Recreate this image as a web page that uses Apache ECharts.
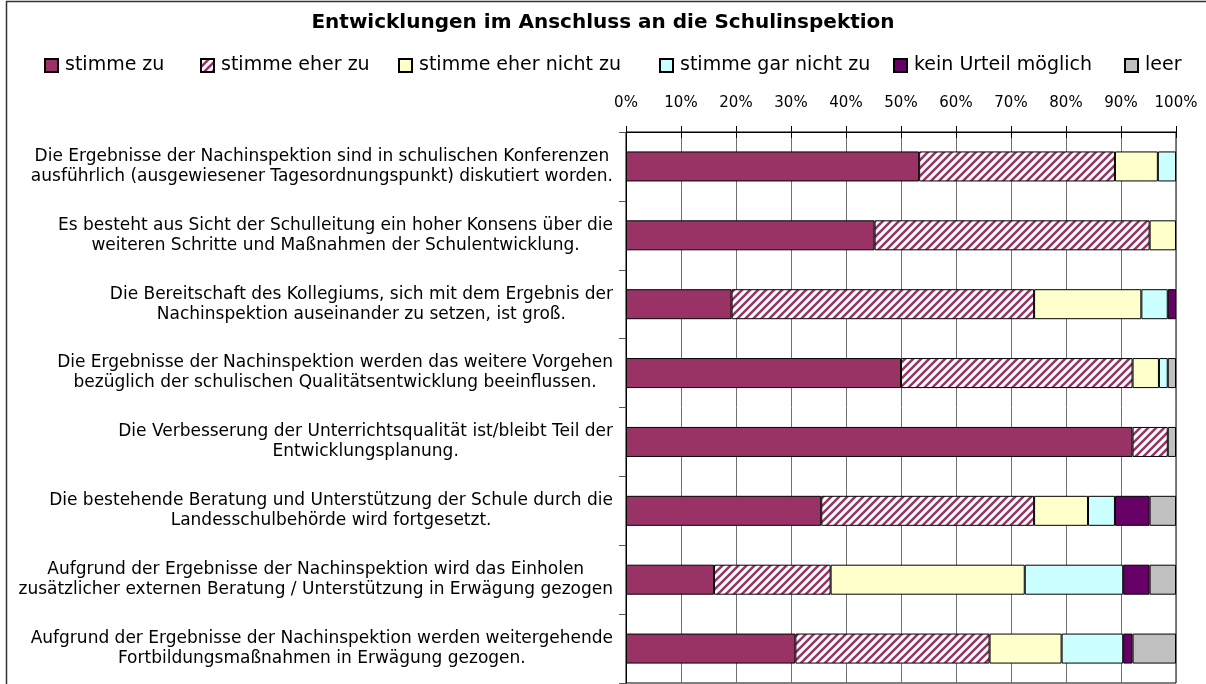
<!DOCTYPE html>
<html>
<head>
<meta charset="utf-8">
<title>Entwicklungen im Anschluss an die Schulinspektion</title>
<script src="https://cdn.jsdelivr.net/npm/echarts@6/dist/echarts.min.js"></script>
<style>
  html, body { margin: 0; padding: 0; background: #fff; }
  #chart { width: 1206px; height: 684px; }
</style>
</head>
<body>
<div id="chart"></div>
<script>
// Survey statements (top to bottom)
const categories = [
  'Die Ergebnisse der Nachinspektion sind in schulischen Konferenzen\nausführlich (ausgewiesener Tagesordnungspunkt) diskutiert worden.',
  'Es besteht aus Sicht der Schulleitung ein hoher Konsens über die\nweiteren Schritte und Maßnahmen der Schulentwicklung.',
  'Die Bereitschaft des Kollegiums, sich mit dem Ergebnis der\nNachinspektion auseinander zu setzen, ist groß.',
  'Die Ergebnisse der Nachinspektion werden das weitere Vorgehen\nbezüglich der schulischen Qualitätsentwicklung beeinflussen.',
  'Die Verbesserung der Unterrichtsqualität ist/bleibt Teil der\nEntwicklungsplanung.',
  'Die bestehende Beratung und Unterstützung der Schule durch die\nLandesschulbehörde wird fortgesetzt.',
  'Aufgrund der Ergebnisse der Nachinspektion wird das Einholen\nzusätzlicher externen Beratung / Unterstützung in Erwägung gezogen',
  'Aufgrund der Ergebnisse der Nachinspektion werden weitergehende\nFortbildungsmaßnahmen in Erwägung gezogen.'
];

// Answer shares in percent, one value per statement
const stimmeZu        = [53.3, 45.2, 19.2, 50.0, 92.1, 35.5, 16.0, 30.8];
const stimmeEherZu    = [35.6, 50.0, 55.0, 42.1,  6.4, 38.7, 21.2, 35.3];
const stimmeEherNicht = [ 7.8,  4.8, 19.5,  4.8,  0.0,  9.8, 35.3, 13.1];
const stimmeGarNicht  = [ 3.3,  0.0,  4.8,  1.6,  0.0,  4.9, 17.9, 11.2];
const keinUrteil      = [ 0.0,  0.0,  1.5,  0.0,  0.0,  6.3,  4.8,  1.7];
const leer            = [ 0.0,  0.0,  0.0,  1.5,  1.5,  4.8,  4.8,  7.9];

const seriesNames = ['stimme zu', 'stimme eher zu', 'stimme eher nicht zu',
                     'stimme gar nicht zu', 'kein Urteil möglich', 'leer'];
const axisTicks = [0, 10, 20, 30, 40, 50, 60, 70, 80, 90, 100];

const FONT = '"DejaVu Sans", "Liberation Sans", Arial, sans-serif';

// Diagonal "/" hatch fill for "stimme eher zu" (seamless tile)
function hatchPattern() {
  const s = 8;
  const c = document.createElement('canvas');
  c.width = s; c.height = s;
  const ctx = c.getContext('2d');
  ctx.fillStyle = '#ffffff';
  ctx.fillRect(0, 0, s, s);
  ctx.strokeStyle = '#993366';
  ctx.lineWidth = 2.6;
  ctx.beginPath();
  // lines x + y = 0, s, 2s
  ctx.moveTo(-s, s);  ctx.lineTo(s, -s);
  ctx.moveTo(-1, s + 1); ctx.lineTo(s + 1, -1);
  ctx.moveTo(0, 2 * s); ctx.lineTo(2 * s, 0);
  ctx.stroke();
  return { image: c, repeat: 'repeat' };
}

const colors = ['#993366', hatchPattern(), '#FFFFCC', '#CCFFFF', '#660066', '#C0C0C0'];
const values = [stimmeZu, stimmeEherZu, stimmeEherNicht, stimmeGarNicht, keinUrteil, leer];

const series = seriesNames.map((name, i) => ({
  name: name,
  type: 'bar',
  stack: 'total',
  barWidth: 30,
  xAxisIndex: 0,
  yAxisIndex: 0,
  itemStyle: { color: colors[i], borderColor: '#000', borderWidth: 1 },
  emphasis: { disabled: true },
  data: values[i].map(v => (v === 0 ? '-' : v))
}));

// One legend block per entry so the row spreads across the full width
const legendLeft = [44, 200, 398, 659, 893, 1124];
const legends = seriesNames.map((name, i) => ({
  data: [name],
  left: legendLeft[i],
  top: 56,
  padding: 0,
  icon: 'rect',
  itemWidth: 13,
  itemHeight: 13,
  selectedMode: false,
  textStyle: { fontFamily: FONT, fontSize: 19, color: '#000', padding: [0, 0, 0, 2] }
}));

const option = {
  backgroundColor: '#fff',
  animation: false,
  title: {
    text: 'Entwicklungen im Anschluss an die Schulinspektion',
    left: 'center',
    top: 8,
    textStyle: { fontFamily: FONT, fontWeight: 'bold', fontSize: 20, color: '#000' }
  },
  legend: legends,
  grid: {
    left: 626, right: 30, top: 132, bottom: 1,
    show: true, borderColor: '#000', borderWidth: 1, backgroundColor: 'transparent'
  },
  xAxis: [
    {
      type: 'value', position: 'top', min: axisTicks[0], max: axisTicks[axisTicks.length - 1],
      interval: axisTicks[1] - axisTicks[0],
      axisLine: { show: true, lineStyle: { color: '#000', width: 1 } },
      axisTick: { show: true, length: 6, lineStyle: { color: '#000' } },
      axisLabel: {
        margin: 21, formatter: '{value}%',
        fontFamily: FONT, fontSize: 15, color: '#000'
      },
      splitLine: { show: true, lineStyle: { color: '#707070', width: 1 } }
    },
    {
      type: 'value', position: 'top', min: axisTicks[0], max: axisTicks[axisTicks.length - 1],
      interval: axisTicks[1] - axisTicks[0],
      axisLine: { show: false },
      axisTick: { show: true, inside: true, length: 6, lineStyle: { color: '#000' } },
      axisLabel: { show: false },
      splitLine: { show: false }
    }
  ],
  yAxis: {
    type: 'category',
    data: categories,
    inverse: true,
    axisLine: { show: true, lineStyle: { color: '#000', width: 1 } },
    axisTick: { show: true, length: 7, lineStyle: { color: '#555' } },
    axisLabel: {
      margin: 13,
      align: 'right',
      formatter: v => v.split('\n').map(s => '{c|' + s + '}').join('\n'),
      rich: {
        c: { align: 'center', fontFamily: FONT, fontSize: 17, lineHeight: 20, color: '#000' }
      }
    },
    splitLine: { show: false }
  },
  graphic: [{
    type: 'rect', silent: true, z: 100,
    shape: { x: 6.5, y: 1.5, width: 1250, height: 720 },
    style: { fill: 'none', stroke: '#333', lineWidth: 1.5 }
  }],
  series: series
};

const chart = echarts.init(document.getElementById('chart'), null, { renderer: 'canvas' });
chart.setOption(option);
</script>
</body>
</html>
